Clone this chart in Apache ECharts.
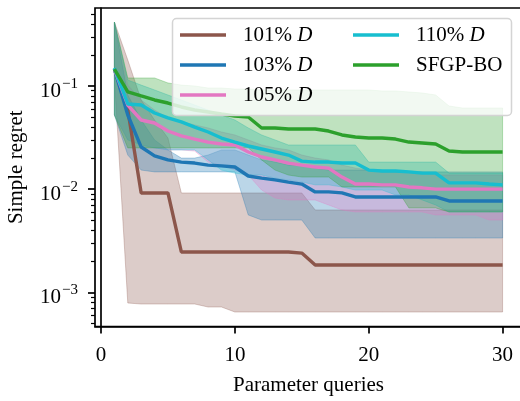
<!DOCTYPE html>
<html><head><meta charset="utf-8">
<script src="https://cdn.jsdelivr.net/npm/echarts@6/dist/echarts.min.js"></script>
<style>html,body{margin:0;padding:0;background:#fff}#c{width:520px;height:401px}</style>
</head><body><div id="c"></div>
<script>
// ---------- data ----------
const queries = [1,2,3,4,5,6,7,8,9,10,11,12,13,14,15,16,17,18,19,20,21,22,23,24,25,26,27,28,29,30];
const methodNames = ['101% D','103% D','105% D','110% D','SFGP-BO'];

const mean101 = [0.146,0.0585,0.00918,0.00918,0.00918,0.00246,0.00246,0.00246,0.00246,0.00246,0.00246,0.00246,0.00246,0.00246,0.0024,0.00184,0.00184,0.00184,0.00184,0.00184,0.00184,0.00184,0.00184,0.00184,0.00184,0.00184,0.00184,0.00184,0.00184,0.00184];
const mean103 = [0.146,0.0523,0.0256,0.0210,0.0192,0.0183,0.0179,0.0171,0.0168,0.0164,0.0134,0.0128,0.0123,0.0117,0.0112,0.0094,0.0094,0.0092,0.0084,0.0084,0.0084,0.0084,0.0084,0.0084,0.0084,0.00768,0.00768,0.00768,0.00768,0.00768];
const mean105 = [0.146,0.0654,0.0468,0.0438,0.0366,0.0328,0.0306,0.0286,0.0274,0.0268,0.0229,0.0205,0.0192,0.0179,0.0171,0.0164,0.0160,0.0131,0.0112,0.0112,0.0110,0.0110,0.0105,0.0103,0.0100,0.0100,0.0100,0.0100,0.0100,0.0100];
const mean110 = [0.1495,0.0669,0.0654,0.0547,0.0490,0.0448,0.0400,0.0358,0.0313,0.0286,0.0262,0.0245,0.0229,0.0214,0.0187,0.0183,0.0183,0.0179,0.0179,0.0153,0.0150,0.0150,0.0147,0.0143,0.0143,0.0115,0.0115,0.0115,0.0112,0.0110];
const meanSF  = [0.146,0.0875,0.0800,0.0732,0.0684,0.0626,0.0585,0.0560,0.0535,0.0512,0.0501,0.0392,0.0392,0.0383,0.0383,0.0383,0.0366,0.0335,0.0320,0.0313,0.0313,0.0306,0.0286,0.0280,0.0274,0.0234,0.0229,0.0229,0.0229,0.0229];

const hi101 = [0.417,0.1786,0.0732,0.0468,0.0313,0.00918,0.00918,0.00918,0.00918,0.00918,0.00918,0.00918,0.00918,0.00918,0.00918,0.00628,0.00628,0.00628,0.00628,0.00628,0.00628,0.00628,0.00628,0.00628,0.00628,0.00628,0.00628,0.00628,0.00628,0.00628];
const lo101 = [0.1196,0.000787,0.00077,0.00077,0.00077,0.00077,0.00077,0.00072,0.00072,0.000644,0.000644,0.000644,0.000644,0.000644,0.000644,0.000644,0.000644,0.000644,0.000644,0.000644,0.000644,0.000644,0.000644,0.000644,0.000644,0.000644,0.000644,0.000644,0.000644,0.000644];
const hi103 = [0.417,0.0818,0.0468,0.0300,0.0240,0.0200,0.0200,0.0214,0.0240,0.0240,0.0214,0.0192,0.0183,0.0171,0.0171,0.0160,0.0153,0.0153,0.0153,0.0153,0.0147,0.0147,0.0147,0.0147,0.0147,0.0147,0.0147,0.0147,0.0147,0.0147];
const lo103 = [0.0523,0.0214,0.0153,0.0147,0.0147,0.0147,0.0147,0.0147,0.0147,0.0147,0.00562,0.00502,0.00502,0.00502,0.00502,0.00336,0.00336,0.00336,0.00336,0.00336,0.00336,0.00336,0.00336,0.00336,0.00336,0.00336,0.00336,0.00336,0.00336,0.00336];
const hi105 = [0.417,0.102,0.0732,0.0585,0.0490,0.0448,0.0419,0.0392,0.0358,0.0335,0.0300,0.0268,0.0251,0.0240,0.0214,0.0200,0.0192,0.0171,0.0160,0.0153,0.0147,0.0147,0.0147,0.0147,0.0137,0.0137,0.0137,0.0137,0.0137,0.0137];
const lo105 = [0.0523,0.0300,0.0268,0.0251,0.0240,0.0240,0.0234,0.0183,0.0171,0.0153,0.0137,0.0098,0.00821,0.00785,0.00785,0.00785,0.00702,0.00628,0.00601,0.00601,0.00601,0.00601,0.00601,0.00601,0.00562,0.00562,0.00562,0.00562,0.00502,0.00502];
const hi110 = [0.417,0.1143,0.102,0.0915,0.0818,0.0732,0.0654,0.0585,0.0523,0.0468,0.0392,0.0335,0.0300,0.0268,0.0268,0.0268,0.0268,0.0268,0.0268,0.0183,0.0183,0.0183,0.0183,0.0183,0.0183,0.0143,0.0143,0.0143,0.0143,0.0143];
const lo110 = [0.0523,0.0300,0.0268,0.0251,0.0240,0.0240,0.0240,0.0192,0.0153,0.0143,0.0137,0.0137,0.0128,0.0123,0.0117,0.0110,0.0110,0.0105,0.0098,0.0098,0.0098,0.00878,0.00878,0.00785,0.00702,0.00601,0.00601,0.00601,0.00601,0.00601];
const hiSF  = [0.417,0.1196,0.1196,0.1196,0.107,0.102,0.100,0.0956,0.0956,0.0935,0.0935,0.0915,0.0915,0.0915,0.0915,0.0915,0.0915,0.0915,0.0915,0.0915,0.0895,0.0895,0.0875,0.0855,0.0818,0.0640,0.0612,0.0612,0.0612,0.0612];
const loSF  = [0.0523,0.0251,0.0251,0.0251,0.0251,0.0251,0.0251,0.0251,0.0251,0.0251,0.0251,0.0192,0.0153,0.0137,0.0131,0.0131,0.0131,0.0105,0.0105,0.0105,0.0105,0.0105,0.00657,0.00657,0.00657,0.00601,0.00601,0.00601,0.00601,0.00601];

const xTickValues = [0,10,20,30];
const yTickValues = [0.001,0.01,0.1];

// ---------- chart ----------
const FONT = "'Liberation Serif','DejaVu Serif',serif";
const FS = 21;
const Y_MIN = 4.66e-4, Y_MAX = 0.5703;
const colors = ['#8c564b','#1f77b4','#e377c2','#17becf','#2ca02c'];
const means = [mean101,mean103,mean105,mean110,meanSF];
const highs = [hi101,hi103,hi105,hi110,hiSF];
const lows  = [lo101,lo103,lo105,lo110,loSF];

function rgba(hex,a){const n=parseInt(hex.slice(1),16);return 'rgba('+(n>>16&255)+','+(n>>8&255)+','+(n&255)+','+a+')';}

// minor log ticks (2..9 x 10^e), expressed in log10 space for the tick-only helper axis
const yMinorLog = [];
for (let e = -4; e <= -1; e++) for (let k = 2; k <= 9; k++) {
  const v = k*Math.pow(10,e);
  if (v >= Y_MIN && v <= Y_MAX) yMinorLog.push(Math.log10(v));
}
const yMajorLog = yTickValues.map(v=>Math.log10(v));

const series = [];
methodNames.forEach((n,i)=>{
  series.push({name:'band_'+i,type:'custom',silent:true,z:1,clip:true,
    encode:{x:0,y:[1,2]},
    data:queries.map((q,j)=>[q,lows[i][j],highs[i][j]]),
    renderItem:(params,api)=>{
      if (params.dataIndexInside !== 0) return null;
      const len = params.dataInsideLength, top=[], bot=[];
      for (let k=0;k<len;k++){
        const x = api.value(0,k);
        top.push(api.coord([x, api.value(2,k)]));
        bot.push(api.coord([x, api.value(1,k)]));
      }
      return {type:'polygon',shape:{points:top.concat(bot.reverse())},
        style:{fill:rgba(colors[i],0.3),stroke:rgba(colors[i],0.3),lineWidth:1}};
    }});
});
methodNames.forEach((n,i)=>{
  series.push({name:n,type:'line',symbol:'none',z:2,color:colors[i],
    data:queries.map((q,j)=>[q,means[i][j]]),
    lineStyle:{color:colors[i],width:3.4}});
});

const legendBase = {
  orient:'vertical',padding:0,itemWidth:46,itemHeight:3.4,itemGap:6,icon:'rect',
  textStyle:{fontFamily:FONT,fontSize:FS,lineHeight:24,color:'#000',padding:[0,0,0,12],
    rich:{i:{fontFamily:FONT,fontSize:FS,fontStyle:'italic',color:'#000'}}},
  formatter:n=> n.endsWith(' D') ? n.slice(0,-1)+'{i|D}' : n,
  z:5
};

const tickAxisBase = {type:'value',position:'left',offset:0,min:Math.log10(Y_MIN),max:Math.log10(Y_MAX),
  axisLine:{show:false,onZero:false},axisLabel:{show:false},splitLine:{show:false}};

const chart = echarts.init(document.getElementById('c'),null,{renderer:'canvas'});
chart.setOption({
  animation:false,
  backgroundColor:'#fff',
  grid:{left:95,width:427,top:8,height:318.5,outerBoundsMode:'none',containLabel:false,
    show:true,borderColor:'#000',borderWidth:1.7,backgroundColor:'transparent'},
  graphic:[{type:'rect',z:4,shape:{x:172.5,y:18.5,width:339,height:97,r:4},
    style:{fill:'rgba(255,255,255,0.8)',stroke:'#d4d4d4',lineWidth:1.5}}],
  legend:[
    Object.assign({},legendBase,{data:methodNames.slice(0,3),left:180,top:23}),
    Object.assign({},legendBase,{data:methodNames.slice(3),left:353,top:23})
  ],
  xAxis:{type:'value',min:-0.45,max:31.45,
    name:'Parameter queries',nameLocation:'middle',nameGap:48,
    nameTextStyle:{fontFamily:FONT,fontSize:FS,color:'#000'},
    axisLine:{show:true,onZero:false,lineStyle:{color:'#000',width:1.7}},
    axisTick:{show:true,length:7,customValues:xTickValues,lineStyle:{color:'#000',width:1.7}},
    axisLabel:{customValues:xTickValues,margin:18,fontFamily:FONT,fontSize:FS,color:'#000'},
    splitLine:{show:false}},
  yAxis:[
    {type:'log',position:'left',logBase:10,min:Y_MIN,max:Y_MAX,
      name:'Simple regret',nameLocation:'middle',nameGap:68,nameRotate:90,
      nameTextStyle:{fontFamily:FONT,fontSize:FS,color:'#000'},
      axisLine:{show:true,lineStyle:{color:'#000',width:1.7}},
      axisTick:{show:false},
      axisLabel:{customValues:yTickValues,margin:17,padding:[6,0,0,0],
        formatter:v=>{const e=Math.round(Math.log10(v));return '{b|10}{s|\u2212'+Math.abs(e)+'}';},
        rich:{b:{fontFamily:FONT,fontSize:FS,color:'#000',verticalAlign:'bottom'},
              s:{fontFamily:FONT,fontSize:15,color:'#000',padding:[0,0,10,1],verticalAlign:'bottom'}}},
      splitLine:{show:false}},
    Object.assign({},tickAxisBase,{
      axisTick:{show:true,length:7,customValues:yMajorLog,lineStyle:{color:'#000',width:1.7}}}),
    Object.assign({},tickAxisBase,{
      axisTick:{show:true,length:4,customValues:yMinorLog,lineStyle:{color:'#000',width:1.2}}})
  ],
  series:series
});
</script></body></html>
